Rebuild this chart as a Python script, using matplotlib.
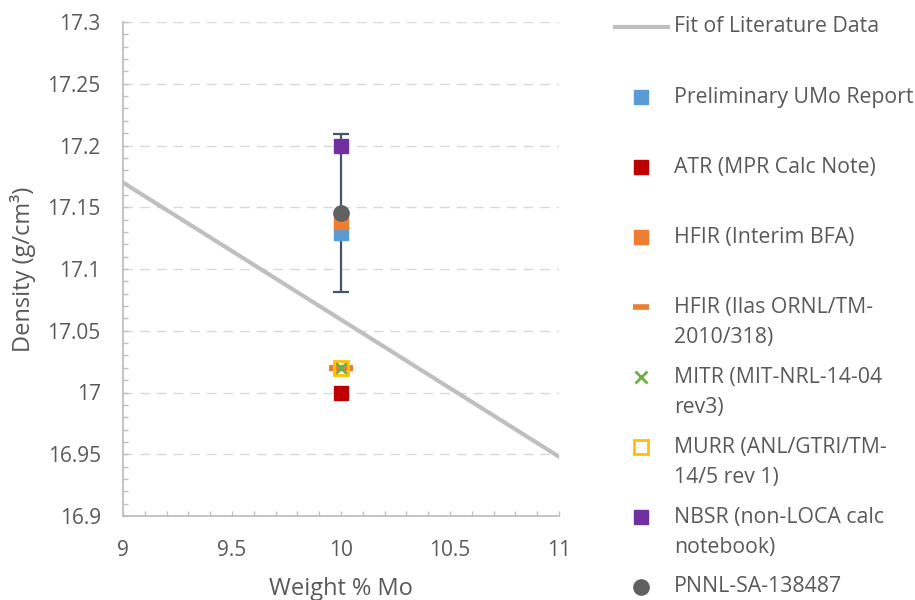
import matplotlib
matplotlib.use('Agg')
import matplotlib.pyplot as plt
from matplotlib.lines import Line2D
from matplotlib.ticker import MultipleLocator

plt.rcParams['font.family'] = ['Open Sans', 'DejaVu Sans']

# literature fit line
fit_x = [9, 11]
fit_y = [17.17, 16.948]

# single-point results, all at 10 wt% Mo
names = ["Preliminary UMo Report", "ATR (MPR Calc Note)", "HFIR (Interim BFA)",
         "HFIR (Ilas ORNL/TM-\n2010/318)", "MITR (MIT-NRL-14-04\nrev3)",
         "MURR (ANL/GTRI/TM-\n14/5 rev 1)", "NBSR (non-LOCA calc\nnotebook)",
         "PNNL-SA-138487"]
wt_mo = [10, 10, 10, 10, 10, 10, 10, 10]
density = [17.129, 17.0, 17.138, 17.02, 17.02, 17.02, 17.2, 17.145]

# PNNL error bar
pnnl_err_lo = 0.064
pnnl_err_hi = 0.064

# marker styles: (marker, facecolor, edgecolor, size, edgewidth)
styles = [
    ('s', '#5B9BD5', '#5B9BD5', 10.5, 1),
    ('s', '#C00000', '#C00000', 10.5, 1),
    ('s', '#ED7D31', '#ED7D31', 10.5, 1),
    ('_', '#ED7D31', '#ED7D31', 17, 4.5),
    ('x', '#70AD47', '#70AD47', 8, 2),
    ('s', 'none', '#FFC000', 9.5, 2),
    ('s', '#7030A0', '#7030A0', 10.5, 1),
    ('o', '#606060', '#606060', 11, 1),
]

fig = plt.figure(figsize=(9.15, 6), dpi=100)
ax = fig.add_axes([123/915, 1 - 516/600, (559 - 123)/915, (516 - 22)/600])

ax.plot(fit_x, fit_y, color='#BFBFBF', lw=3, zorder=2)

# error bar sits behind the markers
ax.errorbar([wt_mo[7]], [density[7]], yerr=[[pnnl_err_lo], [pnnl_err_hi]],
            fmt='none', ecolor='#44546A', elinewidth=1.6, capsize=6,
            capthick=1.6, zorder=3)

for i in range(len(names)):
    m, fc, ec, ms, mew = styles[i]
    ax.plot([wt_mo[i]], [density[i]], linestyle='none', marker=m,
            markerfacecolor=fc, markeredgecolor=ec, markersize=ms,
            markeredgewidth=mew, zorder=4 + i)

ax.set_xlim(9, 11)
ax.set_ylim(16.9, 17.3)
ax.xaxis.set_minor_locator(MultipleLocator(0.1))
ax.yaxis.set_minor_locator(MultipleLocator(0.01))
ax.set_yticks([16.9, 16.95, 17.0, 17.05, 17.1, 17.15, 17.2, 17.25, 17.3])
ax.set_yticklabels(['16.9', '16.95', '17', '17.05', '17.1', '17.15', '17.2', '17.25', '17.3'])
ax.set_xticks([9, 9.5, 10, 10.5, 11])
ax.set_xticklabels(['9', '9.5', '10', '10.5', '11'])

ax.grid(axis='y', which='major', color='#D9D9D9', lw=1, dashes=(7, 5))
ax.set_axisbelow(True)
for s in ['top', 'right']:
    ax.spines[s].set_visible(False)
for s in ['left', 'bottom']:
    ax.spines[s].set_color('#BFBFBF')
    ax.spines[s].set_linewidth(1.3)

ax.tick_params(which='both', direction='in', color='#BFBFBF', width=1, length=3.5,
               labelcolor='#595959', labelsize=15)
ax.tick_params(axis='y', which='major', pad=16)
ax.tick_params(axis='x', which='major', pad=17)

ax.set_xlabel("Weight % Mo", fontsize=17, color='#595959', labelpad=12)
ax.set_ylabel("Density (g/cm³)", fontsize=17, color='#595959', labelpad=8)

# legend drawn by hand, one row every 70 px like the original
def fx(px):
    return px / 915

def fy(py):
    return 1 - py / 600

row_y = 27
fig.add_artist(Line2D([fx(615), fx(668)], [fy(row_y), fy(row_y)],
                      color='#BFBFBF', lw=3, transform=fig.transFigure))
fig.text(fx(674), fy(row_y), "Fit of Literature Data", fontsize=15.3,
         color='#595959', va='center', ha='left')

leg_size = [10.5, 10.5, 10.5, 11.5, 8.5, 9.5, 10.5, 11]
leg_mew = [1, 1, 1, 4, 2, 2, 1, 1]
for i in range(len(names)):
    row_y = 27 + 70 * (i + 1)
    m, fc, ec, ms, mew = styles[i]
    fig.add_artist(Line2D([fx(641)], [fy(row_y)], linestyle='none', marker=m,
                          markerfacecolor=fc, markeredgecolor=ec,
                          markersize=leg_size[i], markeredgewidth=leg_mew[i],
                          transform=fig.transFigure))
    lines = names[i].split('\n')
    for j, t in enumerate(lines):
        fig.text(fx(674), fy(row_y + 30 * j), t, fontsize=15.3,
                 color='#595959', va='center', ha='left')

fig.savefig('out.png', dpi=100)
plt.close()
